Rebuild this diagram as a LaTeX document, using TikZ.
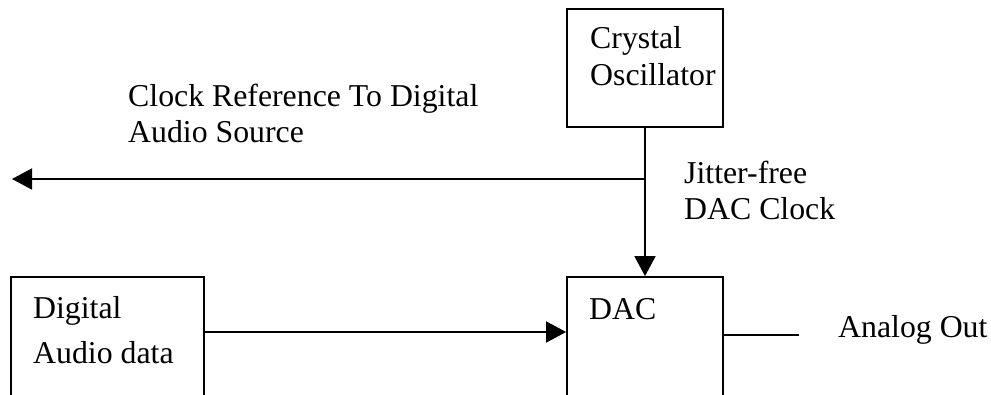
\documentclass[tikz,border=0pt]{standalone}
\usepackage{fontspec}
\setmainfont{Liberation Serif}
\usetikzlibrary{arrows.meta}
\begin{document}
\begin{tikzpicture}[x=1pt,y=1pt,
  box/.style={draw,line width=1.8pt,rectangle,inner sep=0pt},
  wire/.style={line width=1.8pt},
  arrow/.style={wire,-{Triangle[length=20pt,width=21pt]}},
  lbl/.style={inner sep=0pt,anchor=base west,align=left,font=\fontsize{31.8}{36}\selectfont}]
\useasboundingbox (0,0) rectangle (991,-394);
\clip (0,0) rectangle (991,-394);
% boxes
\node[box,minimum width=156pt,minimum height=118pt] (osc) at (645,-68) {};
\node[box,minimum width=156pt,minimum height=153pt] (dac) at (645,-353.5) {};
\node[box,minimum width=193pt,minimum height=153pt] (src) at (107.5,-353.5) {};
% helper coordinates
\coordinate (j) at (645,-179);
\coordinate (lft) at (12,-179);
\coordinate (ay) at (0,-332);
\coordinate (by) at (0,-335);
\coordinate (ao) at (799,-335);
% connectors
\draw[arrow] (osc.south) -- (dac.north);
\draw[arrow] (j) -- (lft);
\draw[arrow] (src.east |- ay) -- (dac.west |- ay);
\draw[wire] (dac.east |- by) -- (ao);
% labels (anchor = baseline of last line)
\node[lbl,font=\fontsize{31.8}{37}\selectfont] (tosc) at (590,-85) {Crystal\\Oscillator};
\node[lbl] (tclk) at (128,-142) {Clock Reference To Digital\\Audio Source};
\node[lbl] (tjit) at (684,-219) {Jitter-free\\DAC Clock};
\node[lbl,font=\fontsize{31.8}{45}\selectfont] (tsrc) at (33,-363) {Digital\\Audio data};
\node[lbl] (tdac) at (589,-319) {DAC};
\node[lbl] (tout) at (838,-337) {Analog Out};
\end{tikzpicture}
\end{document}
